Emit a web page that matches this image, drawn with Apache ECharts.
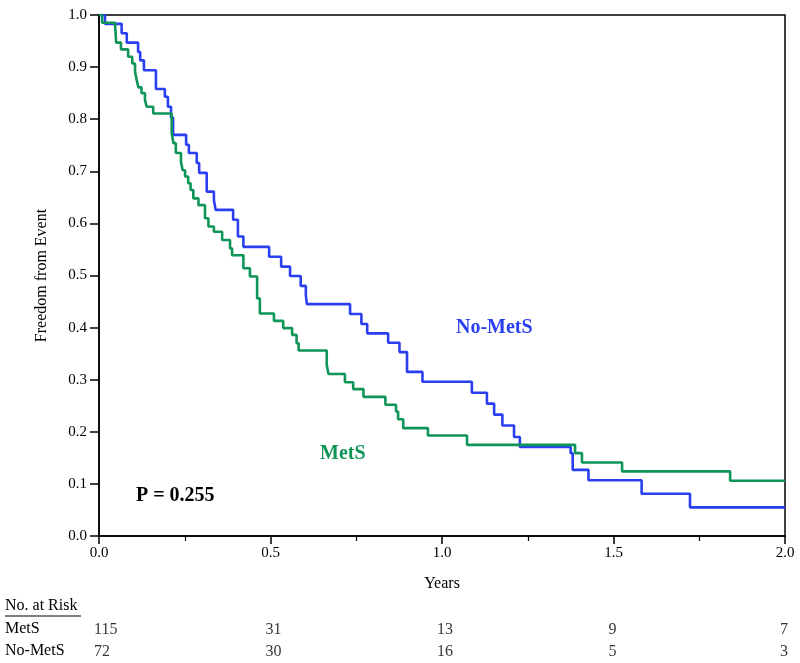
<!DOCTYPE html>
<html>
<head>
<meta charset="utf-8">
<script src="https://cdn.jsdelivr.net/npm/echarts@6/dist/echarts.min.js"></script>
<style>html,body{margin:0;padding:0;background:#fff}#c{width:800px;height:663px}</style>
</head>
<body>
<div id="c"></div>
<script>
// Kaplan-Meier step data: time (years) of each drop and survival after it
const noMetsTimes = [0, 0.0175, 0.066, 0.081, 0.114, 0.12, 0.131, 0.166, 0.192, 0.201, 0.21, 0.216, 0.254, 0.262, 0.285, 0.292, 0.314, 0.335, 0.34, 0.391, 0.405, 0.421, 0.496, 0.531, 0.557, 0.588, 0.603, 0.606, 0.732, 0.765, 0.782, 0.843, 0.876, 0.898, 0.943, 1.087, 1.131, 1.152, 1.176, 1.21, 1.227, 1.375, 1.381, 1.427, 1.582, 1.723, 2.0];
const noMetsSurv  = [1.0, 0.983, 0.965, 0.947, 0.929, 0.913, 0.894, 0.858, 0.843, 0.824, 0.803, 0.77, 0.751, 0.735, 0.716, 0.697, 0.661, 0.645, 0.626, 0.607, 0.575, 0.555, 0.536, 0.517, 0.499, 0.48, 0.463, 0.445, 0.426, 0.407, 0.389, 0.371, 0.353, 0.315, 0.296, 0.275, 0.254, 0.233, 0.212, 0.19, 0.171, 0.159, 0.127, 0.107, 0.081, 0.055, 0.055];
const metsTimes = [0, 0.009, 0.047, 0.05, 0.064, 0.085, 0.097, 0.105, 0.11, 0.115, 0.124, 0.134, 0.139, 0.158, 0.212, 0.217, 0.224, 0.239, 0.244, 0.251, 0.26, 0.267, 0.275, 0.29, 0.309, 0.319, 0.335, 0.359, 0.382, 0.388, 0.421, 0.44, 0.461, 0.469, 0.51, 0.537, 0.563, 0.576, 0.582, 0.664, 0.669, 0.717, 0.741, 0.771, 0.835, 0.866, 0.872, 0.887, 0.959, 1.073, 1.388, 1.408, 1.525, 1.84, 2.0];
const metsSurv  = [1.0, 0.985, 0.98, 0.947, 0.934, 0.92, 0.907, 0.891, 0.875, 0.861, 0.85, 0.837, 0.824, 0.811, 0.773, 0.754, 0.735, 0.718, 0.702, 0.69, 0.677, 0.664, 0.648, 0.635, 0.61, 0.594, 0.584, 0.568, 0.552, 0.539, 0.514, 0.498, 0.456, 0.427, 0.413, 0.399, 0.386, 0.37, 0.356, 0.328, 0.311, 0.295, 0.282, 0.267, 0.252, 0.239, 0.224, 0.207, 0.193, 0.175, 0.159, 0.141, 0.124, 0.106, 0.106];

// Number at risk table
const riskTimes   = [0, 0.5, 1.0, 1.5, 2.0];
const metsRisk    = [115, 31, 13, 9, 7];
const noMetsRisk  = [72, 30, 16, 5, 3];
const riskRows    = ['No-MetS', 'MetS'];

const FONT = '"Liberation Serif", "Times New Roman", serif';
const BLUE = '#2a3ff0';
const GREEN = '#0f9557';

const zip = (a, b) => a.map((v, i) => [v, b[i]]);

const riskLabel = {show: true, position: 'inside', align: 'left', offset: [-5, 0], formatter: p => p.data[2], fontFamily: FONT, fontSize: 16, color: '#000'};

const chart = echarts.init(document.getElementById('c'), null, {renderer: 'canvas'});
chart.setOption({
  animation: false,
  backgroundColor: '#fff',
  textStyle: {fontFamily: FONT},
  grid: [
    {left: 99, right: 15, top: 15, bottom: 127, show: true, borderColor: '#000', borderWidth: 1.5},
    {left: 99, right: 15, top: 619, height: 44}
  ],
  xAxis: [
    {
      gridIndex: 0, type: 'value', min: 0, max: 2, interval: 0.5,
      name: 'Years', nameLocation: 'middle', nameGap: 40,
      nameTextStyle: {fontFamily: FONT, fontSize: 16, color: '#000'},
      axisLine: {lineStyle: {color: '#000', width: 1.5}},
      axisTick: {show: true, inside: false, length: 8, lineStyle: {color: '#000', width: 1.5}},
      minorTick: {show: true, splitNumber: 2, length: 5, lineStyle: {color: '#000', width: 1.2}},
      axisLabel: {fontFamily: FONT, fontSize: 15, color: '#000', margin: 10, formatter: v => v.toFixed(1)},
      splitLine: {show: false}
    },
    {gridIndex: 1, type: 'value', min: 0, max: 2, show: false}
  ],
  yAxis: [
    {
      gridIndex: 0, type: 'value', min: 0, max: 1, interval: 0.1,
      name: 'Freedom from Event', nameLocation: 'middle', nameGap: 49, nameRotate: 90,
      nameTextStyle: {fontFamily: FONT, fontSize: 16, color: '#000'},
      axisLine: {lineStyle: {color: '#000', width: 1.5}},
      axisTick: {show: true, inside: false, length: 9, lineStyle: {color: '#000', width: 1.5}},
      axisLabel: {fontFamily: FONT, fontSize: 15, color: '#000', margin: 12, formatter: v => v.toFixed(1)},
      splitLine: {show: false}
    },
    {gridIndex: 1, type: 'category', data: riskRows, show: false}
  ],
  series: [
    {
      name: 'No-MetS', type: 'line', step: 'end', xAxisIndex: 0, yAxisIndex: 0,
      data: zip(noMetsTimes, noMetsSurv), showSymbol: false, symbol: 'none',
      lineStyle: {color: BLUE, width: 2.6}, z: 3
    },
    {
      name: 'MetS', type: 'line', step: 'end', xAxisIndex: 0, yAxisIndex: 0,
      data: zip(metsTimes, metsSurv), showSymbol: false, symbol: 'none',
      lineStyle: {color: GREEN, width: 2.6}, z: 4
    },
    {
      type: 'scatter', xAxisIndex: 1, yAxisIndex: 1, symbolSize: 0,
      data: riskTimes.map((t, i) => [t, 'MetS', metsRisk[i]]),
      label: riskLabel
    },
    {
      type: 'scatter', xAxisIndex: 1, yAxisIndex: 1, symbolSize: 0,
      data: riskTimes.map((t, i) => [t, 'No-MetS', noMetsRisk[i]]),
      label: riskLabel
    }
  ],
  graphic: [
    {type: 'text', left: 456, top: 318, style: {text: 'No-MetS', fill: BLUE, font: 'bold 20px ' + FONT}},
    {type: 'text', left: 320, top: 444, style: {text: 'MetS', fill: GREEN, font: 'bold 20px ' + FONT}},
    {type: 'text', left: 136, top: 486, style: {text: 'P = 0.255', fill: '#000', font: 'bold 20px ' + FONT}},
    {type: 'text', left: 5, top: 598, style: {text: 'No. at Risk', fill: '#000', font: '16px ' + FONT}},
    {type: 'line', shape: {x1: 5, y1: 616, x2: 81, y2: 616}, style: {stroke: '#000', lineWidth: 1}},
    {type: 'text', left: 5, top: 621, style: {text: 'MetS', fill: '#000', font: '16px ' + FONT}},
    {type: 'text', left: 5, top: 643, style: {text: 'No-MetS', fill: '#000', font: '16px ' + FONT}}
  ]
});
</script>
</body>
</html>
